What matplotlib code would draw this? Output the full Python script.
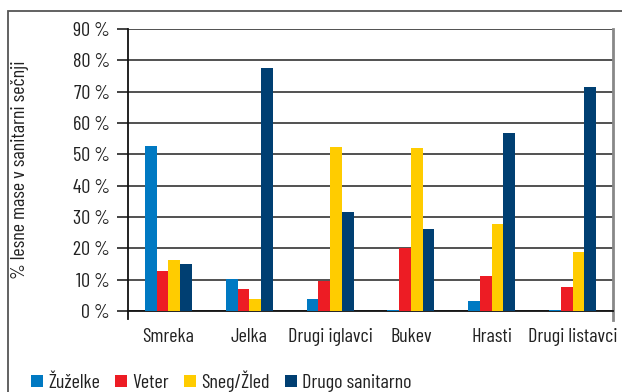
import matplotlib
matplotlib.use('Agg')
import matplotlib.pyplot as plt
import numpy as np
from matplotlib.patches import Rectangle

categories = ['Smreka', 'Jelka', 'Drugi iglavci', 'Bukev', 'Hrasti', 'Drugi listavci']
series_names = ['Žuželke', 'Veter', 'Sneg/Žled', 'Drugo sanitarno']
zuzelke = [52.7, 10.2, 3.8, 0.3, 3.2, 0.3]
veter = [12.9, 7.0, 9.7, 20.0, 11.2, 7.7]
sneg = [16.3, 3.8, 52.3, 52.0, 27.8, 18.8]
drugo = [15.0, 77.6, 31.6, 26.2, 56.8, 71.5]
yticks = list(range(0, 100, 10))

colors = ['#0079c2', '#ed1c24', '#ffcc00', '#003f72']

plt.rcParams['font.family'] = ['Barlow Condensed', 'Roboto Condensed', 'DejaVu Sans']

fig = plt.figure(figsize=(6.22, 3.92), dpi=100)
ax = fig.add_axes([128 / 622, 1 - 311 / 392, 485 / 622, 282 / 392])

# outer frame, cut at right and bottom like the original
fig.patches.append(Rectangle((8 / 622, -0.1), 1.2, 1 - 11 / 392 + 0.1,
                             transform=fig.transFigure, fill=False,
                             edgecolor='#555555', linewidth=1.3))

x = np.arange(len(categories))
w = 0.145
all_vals = [zuzelke, veter, sneg, drugo]
for i, vals in enumerate(all_vals):
    ax.bar(x + (i - 1.5) * w, vals, width=w, color=colors[i],
           label=series_names[i], zorder=3)

ax.set_xlim(-0.5, len(categories) - 0.5)
ax.set_ylim(0, 90)
ax.set_yticks(yticks)
ax.set_yticklabels([f'{t} %' for t in yticks], fontsize=14.5, color='#222222')
ax.set_xticks(x)
ax.set_xticklabels(categories, fontsize=14.5, color='#222222')
ax.tick_params(axis='x', length=0, pad=12)
ax.tick_params(axis='y', length=8, width=1.2, color='#222222', pad=5)
ax.yaxis.grid(True, color='#333333', linewidth=1.2, zorder=1)
ax.set_axisbelow(True)

ax.spines['top'].set_visible(False)
ax.spines['left'].set_color('#111111')
ax.spines['left'].set_linewidth(1.3)
ax.spines['left'].set_bounds(-2.4, 90)
ax.spines['bottom'].set_color('#111111')
ax.spines['bottom'].set_linewidth(1.3)
ax.spines['right'].set_color('#888888')
ax.spines['right'].set_linewidth(2)
ax.spines['right'].set_bounds(-2.8, 90)

ax.set_ylabel('% lesne mase v sanitarni sečnji', fontsize=14.5, color='#222222')
ax.yaxis.set_label_coords(-0.205, 0.5)

fig.legend(loc='lower left', bbox_to_anchor=(17 / 622, -0.036), ncol=4, frameon=False,
           fontsize=14.5, handlelength=0.6, handleheight=0.6, handletextpad=0.25,
           columnspacing=0.75, borderpad=0.2, labelcolor='#222222')

fig.savefig('out.png', dpi=100)
